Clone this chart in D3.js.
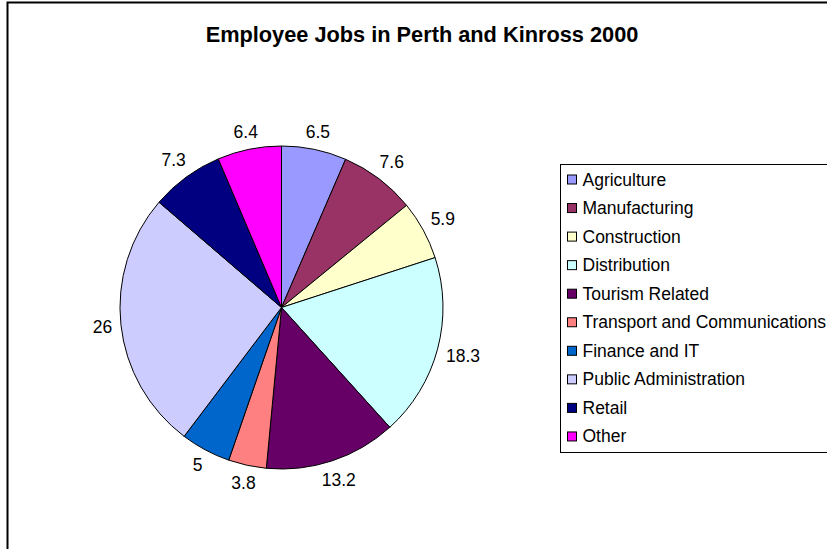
<!DOCTYPE html>
<html>
<head>
<meta charset="UTF-8">
<title>Employee Jobs</title>
<script src="https://d3js.org/d3.v7.min.js"></script>
<style>
  body { margin: 0; background: #fff; }
  text { font-family: "Liberation Sans", Arial, sans-serif; }
</style>
</head>
<body>
<div id="chart"></div>
<script>
  // data
  const sectors = ["Agriculture", "Manufacturing", "Construction", "Distribution",
    "Tourism Related", "Transport and Communications", "Finance and IT",
    "Public Administration", "Retail", "Other"];
  const shares = [6.5, 7.6, 5.9, 18.3, 13.2, 3.8, 5, 26, 7.3, 6.4];
  const colours = ["#9999ff", "#993366", "#ffffcc", "#ccffff", "#660066",
    "#ff8080", "#0066cc", "#ccccff", "#000080", "#ff00ff"];

  const width = 827, height = 549;
  const cx = 281.5, cy = 307.5, r = 161.5;

  const svg = d3.select("#chart").append("svg")
    .attr("width", width).attr("height", height);

  // chart area border (right and bottom fall outside the window)
  svg.append("rect")
    .attr("x", 7.5).attr("y", 2.5)
    .attr("width", 840).attr("height", 560)
    .attr("fill", "#fff").attr("stroke", "#000").attr("stroke-width", 2);

  svg.append("text")
    .attr("x", 422).attr("y", 42)
    .attr("text-anchor", "middle")
    .attr("font-size", 21.75).attr("font-weight", "bold")
    .text("Employee Jobs in Perth and Kinross 2000");

  const pie = d3.pie().sort(null).value(d => d.v);
  const arc = d3.arc().innerRadius(0).outerRadius(r);
  const data = shares.map((v, i) => ({ v, name: sectors[i], c: colours[i] }));
  const arcs = pie(data);

  const g = svg.append("g").attr("transform", `translate(${cx},${cy})`);

  g.selectAll("path")
    .data(arcs)
    .join("path")
    .attr("d", arc)
    .attr("fill", d => d.data.c)
    .attr("stroke", "#000")
    .attr("stroke-width", 1);

  // labels sit just outside the rim, pushed out by half their box
  const gap = 8;
  g.selectAll("text.lbl")
    .data(arcs)
    .join("text")
    .attr("class", "lbl")
    .attr("font-size", 17.5)
    .attr("text-anchor", "middle")
    .attr("dominant-baseline", "central")
    .text(d => d.data.v)
    .each(function (d) {
      const a = (d.startAngle + d.endAngle) / 2;
      const s = Math.sin(a), c = -Math.cos(a);
      const w = this.getComputedTextLength(), h = 15;
      const k = r + gap + Math.abs(s) * w / 2 + Math.abs(c) * h / 2;
      d3.select(this).attr("x", s * k).attr("y", c * k);
    });

  // legend
  const lx = 560.5, ly = 164.5, step = 28.55;
  svg.append("rect")
    .attr("x", lx).attr("y", ly)
    .attr("width", 300).attr("height", 288)
    .attr("fill", "#fff").attr("stroke", "#000").attr("stroke-width", 1);

  const items = svg.selectAll("g.item")
    .data(data)
    .join("g")
    .attr("class", "item")
    .attr("transform", (d, i) => `translate(${lx + 7},${ly + 15 + i * step})`);

  items.append("rect")
    .attr("x", 0).attr("y", -4.5)
    .attr("width", 9).attr("height", 9)
    .attr("fill", d => d.c)
    .attr("stroke", "#000").attr("stroke-width", 1);

  items.append("text")
    .attr("x", 15).attr("y", 0)
    .attr("dominant-baseline", "central")
    .attr("font-size", 17.5)
    .text(d => d.name);
</script>
</body>
</html>
